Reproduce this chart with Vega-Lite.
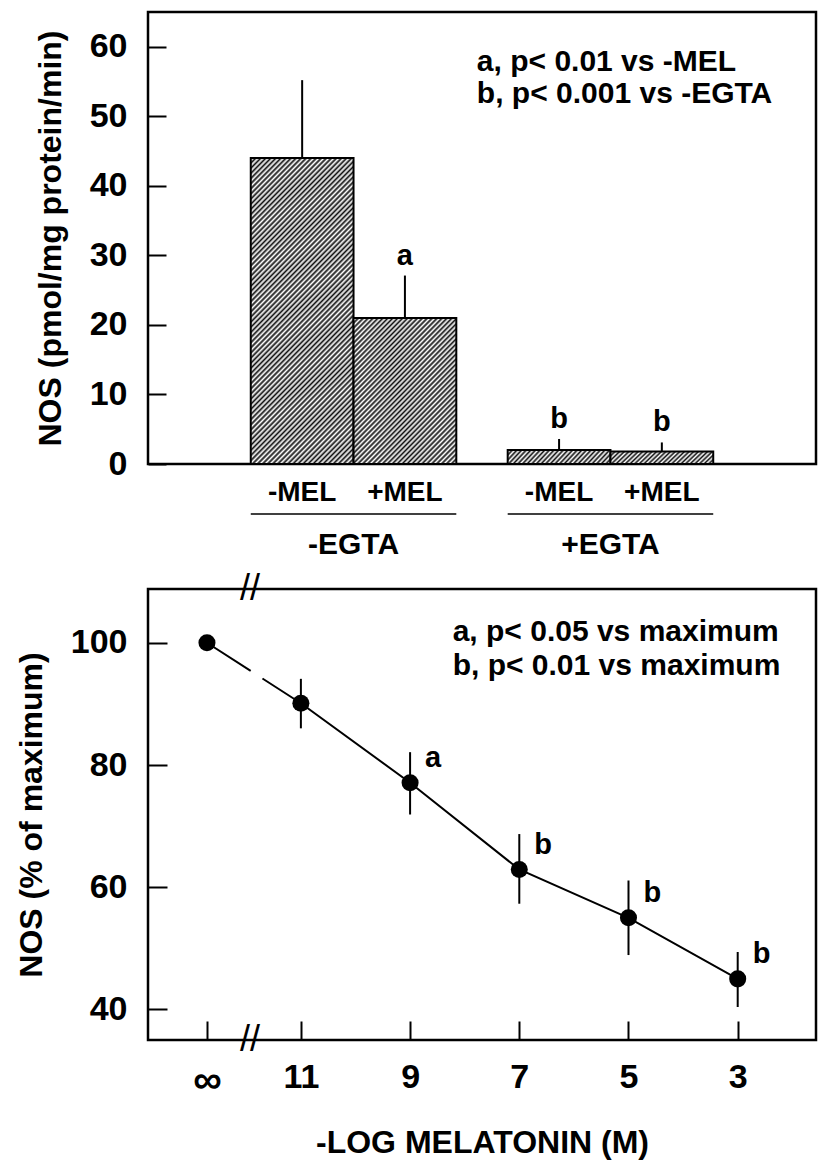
{
"$schema": "https://vega.github.io/schema/vega-lite/v6.json",
"padding": {"left": 14, "top": 10, "right": 0, "bottom": 0},
"background": "white",
"bounds": "flush",
"spacing": 125,
"config": {
  "view": {"stroke": "black", "strokeWidth": 2.5},
  "axis": {"domain": false, "grid": false, "tickColor": "black", "tickWidth": 2, "labelColor": "black", "titleColor": "black", "labelFont": "Liberation Sans", "titleFont": "Liberation Sans", "labelFontWeight": "bold", "titleFontWeight": "bold", "labelFontSize": 34, "titleFontSize": 32}
},
"datasets": {
  "bars": [
    {"egta": "-EGTA", "mel": "-MEL", "x0": 1, "x1": 2, "xc": 1.5, "mean": 44, "upper": 55.2, "sig": ""},
    {"egta": "-EGTA", "mel": "+MEL", "x0": 2, "x1": 3, "xc": 2.5, "mean": 21, "upper": 27.1, "sig": "a"},
    {"egta": "+EGTA", "mel": "-MEL", "x0": 3.5, "x1": 4.5, "xc": 4, "mean": 2.0, "upper": 3.6, "sig": "b"},
    {"egta": "+EGTA", "mel": "+MEL", "x0": 4.5, "x1": 5.5, "xc": 5, "mean": 1.8, "upper": 3.1, "sig": "b"}
  ],
  "dose": [
    {"dose": "∞", "pos": 12.72, "nos": 100, "lo": null, "hi": null, "sig": ""},
    {"dose": "11", "pos": 11, "nos": 90.1, "lo": 86.0, "hi": 94.1, "sig": ""},
    {"dose": "9", "pos": 9, "nos": 77.1, "lo": 71.9, "hi": 82.1, "sig": "a"},
    {"dose": "7", "pos": 7, "nos": 62.9, "lo": 57.3, "hi": 68.7, "sig": "b"},
    {"dose": "5", "pos": 5, "nos": 55.0, "lo": 48.9, "hi": 61.1, "sig": "b"},
    {"dose": "3", "pos": 3, "nos": 45.0, "lo": 40.4, "hi": 49.4, "sig": "b"}
  ]
},
"vconcat": [
{
  "width": 668, "height": 452,
  "layer": [
    {
      "data": {"name": "bars"},
      "transform": [{"filter": "datum.x0 == 1"}],
      "mark": {"type": "rect", "stroke": "black", "strokeWidth": 2, "fill": {"gradient": "linear", "x1": 0, "y1": 0, "x2": 0.41, "y2": 1.201, "stops": [
{"offset":0,"color":"#111"},{"offset":0.00625,"color":"#fff"},{"offset":0.0125,"color":"#111"},{"offset":0.01875,"color":"#fff"},{"offset":0.025,"color":"#111"},{"offset":0.03125,"color":"#fff"},{"offset":0.0375,"color":"#111"},{"offset":0.04375,"color":"#fff"},
{"offset":0.05,"color":"#111"},{"offset":0.05625,"color":"#fff"},{"offset":0.0625,"color":"#111"},{"offset":0.06875,"color":"#fff"},{"offset":0.075,"color":"#111"},{"offset":0.08125,"color":"#fff"},{"offset":0.0875,"color":"#111"},{"offset":0.09375,"color":"#fff"},
{"offset":0.1,"color":"#111"},{"offset":0.10625,"color":"#fff"},{"offset":0.1125,"color":"#111"},{"offset":0.11875,"color":"#fff"},{"offset":0.125,"color":"#111"},{"offset":0.13125,"color":"#fff"},{"offset":0.1375,"color":"#111"},{"offset":0.14375,"color":"#fff"},
{"offset":0.15,"color":"#111"},{"offset":0.15625,"color":"#fff"},{"offset":0.1625,"color":"#111"},{"offset":0.16875,"color":"#fff"},{"offset":0.175,"color":"#111"},{"offset":0.18125,"color":"#fff"},{"offset":0.1875,"color":"#111"},{"offset":0.19375,"color":"#fff"},
{"offset":0.2,"color":"#111"},{"offset":0.20625,"color":"#fff"},{"offset":0.2125,"color":"#111"},{"offset":0.21875,"color":"#fff"},{"offset":0.225,"color":"#111"},{"offset":0.23125,"color":"#fff"},{"offset":0.2375,"color":"#111"},{"offset":0.24375,"color":"#fff"},
{"offset":0.25,"color":"#111"},{"offset":0.25625,"color":"#fff"},{"offset":0.2625,"color":"#111"},{"offset":0.26875,"color":"#fff"},{"offset":0.275,"color":"#111"},{"offset":0.28125,"color":"#fff"},{"offset":0.2875,"color":"#111"},{"offset":0.29375,"color":"#fff"},
{"offset":0.3,"color":"#111"},{"offset":0.30625,"color":"#fff"},{"offset":0.3125,"color":"#111"},{"offset":0.31875,"color":"#fff"},{"offset":0.325,"color":"#111"},{"offset":0.33125,"color":"#fff"},{"offset":0.3375,"color":"#111"},{"offset":0.34375,"color":"#fff"},
{"offset":0.35,"color":"#111"},{"offset":0.35625,"color":"#fff"},{"offset":0.3625,"color":"#111"},{"offset":0.36875,"color":"#fff"},{"offset":0.375,"color":"#111"},{"offset":0.38125,"color":"#fff"},{"offset":0.3875,"color":"#111"},{"offset":0.39375,"color":"#fff"},
{"offset":0.4,"color":"#111"},{"offset":0.40625,"color":"#fff"},{"offset":0.4125,"color":"#111"},{"offset":0.41875,"color":"#fff"},{"offset":0.425,"color":"#111"},{"offset":0.43125,"color":"#fff"},{"offset":0.4375,"color":"#111"},{"offset":0.44375,"color":"#fff"},
{"offset":0.45,"color":"#111"},{"offset":0.45625,"color":"#fff"},{"offset":0.4625,"color":"#111"},{"offset":0.46875,"color":"#fff"},{"offset":0.475,"color":"#111"},{"offset":0.48125,"color":"#fff"},{"offset":0.4875,"color":"#111"},{"offset":0.49375,"color":"#fff"},
{"offset":0.5,"color":"#111"},{"offset":0.50625,"color":"#fff"},{"offset":0.5125,"color":"#111"},{"offset":0.51875,"color":"#fff"},{"offset":0.525,"color":"#111"},{"offset":0.53125,"color":"#fff"},{"offset":0.5375,"color":"#111"},{"offset":0.54375,"color":"#fff"},
{"offset":0.55,"color":"#111"},{"offset":0.55625,"color":"#fff"},{"offset":0.5625,"color":"#111"},{"offset":0.56875,"color":"#fff"},{"offset":0.575,"color":"#111"},{"offset":0.58125,"color":"#fff"},{"offset":0.5875,"color":"#111"},{"offset":0.59375,"color":"#fff"},
{"offset":0.6,"color":"#111"},{"offset":0.60625,"color":"#fff"},{"offset":0.6125,"color":"#111"},{"offset":0.61875,"color":"#fff"},{"offset":0.625,"color":"#111"},{"offset":0.63125,"color":"#fff"},{"offset":0.6375,"color":"#111"},{"offset":0.64375,"color":"#fff"},
{"offset":0.65,"color":"#111"},{"offset":0.65625,"color":"#fff"},{"offset":0.6625,"color":"#111"},{"offset":0.66875,"color":"#fff"},{"offset":0.675,"color":"#111"},{"offset":0.68125,"color":"#fff"},{"offset":0.6875,"color":"#111"},{"offset":0.69375,"color":"#fff"},
{"offset":0.7,"color":"#111"},{"offset":0.70625,"color":"#fff"},{"offset":0.7125,"color":"#111"},{"offset":0.71875,"color":"#fff"},{"offset":0.725,"color":"#111"},{"offset":0.73125,"color":"#fff"},{"offset":0.7375,"color":"#111"},{"offset":0.74375,"color":"#fff"},
{"offset":0.75,"color":"#111"},{"offset":0.75625,"color":"#fff"},{"offset":0.7625,"color":"#111"},{"offset":0.76875,"color":"#fff"},{"offset":0.775,"color":"#111"},{"offset":0.78125,"color":"#fff"},{"offset":0.7875,"color":"#111"},{"offset":0.79375,"color":"#fff"},
{"offset":0.8,"color":"#111"},{"offset":0.80625,"color":"#fff"},{"offset":0.8125,"color":"#111"},{"offset":0.81875,"color":"#fff"},{"offset":0.825,"color":"#111"},{"offset":0.83125,"color":"#fff"},{"offset":0.8375,"color":"#111"},{"offset":0.84375,"color":"#fff"},
{"offset":0.85,"color":"#111"},{"offset":0.85625,"color":"#fff"},{"offset":0.8625,"color":"#111"},{"offset":0.86875,"color":"#fff"},{"offset":0.875,"color":"#111"},{"offset":0.88125,"color":"#fff"},{"offset":0.8875,"color":"#111"},{"offset":0.89375,"color":"#fff"},
{"offset":0.9,"color":"#111"},{"offset":0.90625,"color":"#fff"},{"offset":0.9125,"color":"#111"},{"offset":0.91875,"color":"#fff"},{"offset":0.925,"color":"#111"},{"offset":0.93125,"color":"#fff"},{"offset":0.9375,"color":"#111"},{"offset":0.94375,"color":"#fff"},
{"offset":0.95,"color":"#111"},{"offset":0.95625,"color":"#fff"},{"offset":0.9625,"color":"#111"},{"offset":0.96875,"color":"#fff"},{"offset":0.975,"color":"#111"},{"offset":0.98125,"color":"#fff"},{"offset":0.9875,"color":"#111"},{"offset":0.99375,"color":"#fff"},
{"offset":1,"color":"#111"}
      ]}},
      "encoding": {
        "x": {"field": "x0", "type": "quantitative", "scale": {"domain": [0, 6.4]}, "axis": null},
        "x2": {"field": "x1"},
        "y": {"field": "mean", "type": "quantitative", "scale": {"domain": [0, 65]}, "title": "NOS (pmol/mg protein/min)", "axis": {"values": [0, 10, 20, 30, 40, 50, 60], "tickSize": -18, "labelPadding": 39, "titlePadding": 22}},
        "y2": {"datum": 0}
      }
    },
    {
      "data": {"name": "bars"},
      "transform": [{"filter": "datum.x0 == 2"}],
      "mark": {"type": "rect", "stroke": "black", "strokeWidth": 2, "fill": {"gradient": "linear", "x1": 0, "y1": 0, "x2": 0.8115, "y2": 1.1349, "stops": [
{"offset":0,"color":"#111"},{"offset":0.01,"color":"#fff"},{"offset":0.02,"color":"#111"},{"offset":0.03,"color":"#fff"},{"offset":0.04,"color":"#111"},{"offset":0.05,"color":"#fff"},{"offset":0.06,"color":"#111"},{"offset":0.07,"color":"#fff"},{"offset":0.08,"color":"#111"},{"offset":0.09,"color":"#fff"},
{"offset":0.1,"color":"#111"},{"offset":0.11,"color":"#fff"},{"offset":0.12,"color":"#111"},{"offset":0.13,"color":"#fff"},{"offset":0.14,"color":"#111"},{"offset":0.15,"color":"#fff"},{"offset":0.16,"color":"#111"},{"offset":0.17,"color":"#fff"},{"offset":0.18,"color":"#111"},{"offset":0.19,"color":"#fff"},
{"offset":0.2,"color":"#111"},{"offset":0.21,"color":"#fff"},{"offset":0.22,"color":"#111"},{"offset":0.23,"color":"#fff"},{"offset":0.24,"color":"#111"},{"offset":0.25,"color":"#fff"},{"offset":0.26,"color":"#111"},{"offset":0.27,"color":"#fff"},{"offset":0.28,"color":"#111"},{"offset":0.29,"color":"#fff"},
{"offset":0.3,"color":"#111"},{"offset":0.31,"color":"#fff"},{"offset":0.32,"color":"#111"},{"offset":0.33,"color":"#fff"},{"offset":0.34,"color":"#111"},{"offset":0.35,"color":"#fff"},{"offset":0.36,"color":"#111"},{"offset":0.37,"color":"#fff"},{"offset":0.38,"color":"#111"},{"offset":0.39,"color":"#fff"},
{"offset":0.4,"color":"#111"},{"offset":0.41,"color":"#fff"},{"offset":0.42,"color":"#111"},{"offset":0.43,"color":"#fff"},{"offset":0.44,"color":"#111"},{"offset":0.45,"color":"#fff"},{"offset":0.46,"color":"#111"},{"offset":0.47,"color":"#fff"},{"offset":0.48,"color":"#111"},{"offset":0.49,"color":"#fff"},
{"offset":0.5,"color":"#111"},{"offset":0.51,"color":"#fff"},{"offset":0.52,"color":"#111"},{"offset":0.53,"color":"#fff"},{"offset":0.54,"color":"#111"},{"offset":0.55,"color":"#fff"},{"offset":0.56,"color":"#111"},{"offset":0.57,"color":"#fff"},{"offset":0.58,"color":"#111"},{"offset":0.59,"color":"#fff"},
{"offset":0.6,"color":"#111"},{"offset":0.61,"color":"#fff"},{"offset":0.62,"color":"#111"},{"offset":0.63,"color":"#fff"},{"offset":0.64,"color":"#111"},{"offset":0.65,"color":"#fff"},{"offset":0.66,"color":"#111"},{"offset":0.67,"color":"#fff"},{"offset":0.68,"color":"#111"},{"offset":0.69,"color":"#fff"},
{"offset":0.7,"color":"#111"},{"offset":0.71,"color":"#fff"},{"offset":0.72,"color":"#111"},{"offset":0.73,"color":"#fff"},{"offset":0.74,"color":"#111"},{"offset":0.75,"color":"#fff"},{"offset":0.76,"color":"#111"},{"offset":0.77,"color":"#fff"},{"offset":0.78,"color":"#111"},{"offset":0.79,"color":"#fff"},
{"offset":0.8,"color":"#111"},{"offset":0.81,"color":"#fff"},{"offset":0.82,"color":"#111"},{"offset":0.83,"color":"#fff"},{"offset":0.84,"color":"#111"},{"offset":0.85,"color":"#fff"},{"offset":0.86,"color":"#111"},{"offset":0.87,"color":"#fff"},{"offset":0.88,"color":"#111"},{"offset":0.89,"color":"#fff"},
{"offset":0.9,"color":"#111"},{"offset":0.91,"color":"#fff"},{"offset":0.92,"color":"#111"},{"offset":0.93,"color":"#fff"},{"offset":0.94,"color":"#111"},{"offset":0.95,"color":"#fff"},{"offset":0.96,"color":"#111"},{"offset":0.97,"color":"#fff"},{"offset":0.98,"color":"#111"},{"offset":0.99,"color":"#fff"},
{"offset":1,"color":"#111"}
      ]}},
      "encoding": {
        "x": {"field": "x0", "type": "quantitative", "axis": null},
        "x2": {"field": "x1"},
        "y": {"field": "mean", "type": "quantitative", "title": "NOS (pmol/mg protein/min)"},
        "y2": {"datum": 0}
      }
    },
    {
      "data": {"name": "bars"},
      "transform": [{"filter": "datum.x0 > 3"}],
      "mark": {"type": "rect", "stroke": "black", "strokeWidth": 2, "fill": {"gradient": "linear", "x1": 0, "y1": 0, "x2": 1.1087, "y2": 0.1402, "stops": [
{"offset":0,"color":"#111"},{"offset":0.02,"color":"#fff"},{"offset":0.04,"color":"#111"},{"offset":0.06,"color":"#fff"},{"offset":0.08,"color":"#111"},{"offset":0.1,"color":"#fff"},{"offset":0.12,"color":"#111"},{"offset":0.14,"color":"#fff"},{"offset":0.16,"color":"#111"},{"offset":0.18,"color":"#fff"},
{"offset":0.2,"color":"#111"},{"offset":0.22,"color":"#fff"},{"offset":0.24,"color":"#111"},{"offset":0.26,"color":"#fff"},{"offset":0.28,"color":"#111"},{"offset":0.3,"color":"#fff"},{"offset":0.32,"color":"#111"},{"offset":0.34,"color":"#fff"},{"offset":0.36,"color":"#111"},{"offset":0.38,"color":"#fff"},
{"offset":0.4,"color":"#111"},{"offset":0.42,"color":"#fff"},{"offset":0.44,"color":"#111"},{"offset":0.46,"color":"#fff"},{"offset":0.48,"color":"#111"},{"offset":0.5,"color":"#fff"},{"offset":0.52,"color":"#111"},{"offset":0.54,"color":"#fff"},{"offset":0.56,"color":"#111"},{"offset":0.58,"color":"#fff"},
{"offset":0.6,"color":"#111"},{"offset":0.62,"color":"#fff"},{"offset":0.64,"color":"#111"},{"offset":0.66,"color":"#fff"},{"offset":0.68,"color":"#111"},{"offset":0.7,"color":"#fff"},{"offset":0.72,"color":"#111"},{"offset":0.74,"color":"#fff"},{"offset":0.76,"color":"#111"},{"offset":0.78,"color":"#fff"},
{"offset":0.8,"color":"#111"},{"offset":0.82,"color":"#fff"},{"offset":0.84,"color":"#111"},{"offset":0.86,"color":"#fff"},{"offset":0.88,"color":"#111"},{"offset":0.9,"color":"#fff"},{"offset":0.92,"color":"#111"},{"offset":0.94,"color":"#fff"},{"offset":0.96,"color":"#111"},{"offset":0.98,"color":"#fff"},
{"offset":1,"color":"#111"}
      ]}},
      "encoding": {
        "x": {"field": "x0", "type": "quantitative", "axis": null},
        "x2": {"field": "x1"},
        "y": {"field": "mean", "type": "quantitative", "title": "NOS (pmol/mg protein/min)"},
        "y2": {"datum": 0}
      }
    },
    {
      "data": {"name": "bars"},
      "mark": {"type": "rule", "color": "black", "strokeWidth": 2},
      "encoding": {
        "x": {"field": "xc", "type": "quantitative", "axis": null},
        "y": {"field": "mean", "type": "quantitative", "title": "NOS (pmol/mg protein/min)"},
        "y2": {"field": "upper"}
      }
    },
    {
      "data": {"name": "bars"},
      "mark": {"type": "text", "color": "black", "font": "Liberation Sans", "fontWeight": "bold", "fontSize": 29, "align": "center", "baseline": "alphabetic", "dy": -11},
      "encoding": {
        "x": {"field": "xc", "type": "quantitative", "axis": null},
        "y": {"field": "upper", "type": "quantitative", "title": "NOS (pmol/mg protein/min)"},
        "text": {"field": "sig"}
      }
    },
    {
      "data": {"name": "bars"},
      "mark": {"type": "text", "color": "black", "font": "Liberation Sans", "fontWeight": "bold", "fontSize": 28, "align": "center", "baseline": "alphabetic"},
      "encoding": {
        "x": {"field": "xc", "type": "quantitative", "axis": null},
        "y": {"datum": -5.3, "title": "NOS (pmol/mg protein/min)"},
        "text": {"field": "mel"}
      }
    },
    {
      "data": {"name": "bars"},
      "transform": [{"aggregate": [{"op": "min", "field": "x0", "as": "gx0"}, {"op": "max", "field": "x1", "as": "gx1"}], "groupby": ["egta"]}],
      "mark": {"type": "rule", "color": "black", "strokeWidth": 1.5},
      "encoding": {
        "x": {"field": "gx0", "type": "quantitative", "axis": null},
        "x2": {"field": "gx1"},
        "y": {"datum": -7.2, "title": "NOS (pmol/mg protein/min)"}
      }
    },
    {
      "data": {"name": "bars"},
      "transform": [{"aggregate": [{"op": "mean", "field": "xc", "as": "gxc"}], "groupby": ["egta"]}],
      "mark": {"type": "text", "color": "black", "font": "Liberation Sans", "fontWeight": "bold", "fontSize": 30, "align": "center", "baseline": "alphabetic"},
      "encoding": {
        "x": {"field": "gxc", "type": "quantitative", "axis": null},
        "y": {"datum": -12.9, "title": "NOS (pmol/mg protein/min)"},
        "text": {"field": "egta"}
      }
    },
    {
      "data": {"values": [{}]},
      "mark": {"type": "text", "color": "black", "font": "Liberation Sans", "fontWeight": "bold", "fontSize": 30, "align": "left", "baseline": "alphabetic", "lineHeight": 32},
      "encoding": {
        "x": {"datum": 3.2, "axis": null},
        "y": {"datum": 56.5, "title": "NOS (pmol/mg protein/min)"},
        "text": {"value": ["a, p< 0.01 vs -MEL", "b, p< 0.001 vs -EGTA"]}
      }
    }
  ]
},
{
  "width": 668, "height": 451,
  "encoding": {
    "x": {"type": "quantitative", "scale": {"domain": [1.566, 13.8], "reverse": true}, "title": "-LOG MELATONIN (M)", "axis": {"values": [12.72, 11, 9, 7, 5, 3], "labelExpr": "datum.value > 12 ? '∞' : datum.label", "labelFontSize": {"condition": {"test": "datum.value > 12", "value": 40}, "value": 34}, "tickSize": -19, "labelPadding": 39, "titlePadding": 27, "labelFlush": false}},
    "y": {"type": "quantitative", "scale": {"domain": [35, 108.8]}, "title": "NOS (% of maximum)", "axis": {"values": [40, 60, 80, 100], "tickSize": -19, "labelPadding": 40, "titlePadding": 22}}
  },
  "layer": [
    {
      "data": {"name": "dose"},
      "transform": [{"filter": "datum.lo != null"}],
      "mark": {"type": "rule", "color": "black", "strokeWidth": 2},
      "encoding": {
        "x": {"field": "pos"},
        "y": {"field": "lo"},
        "y2": {"field": "hi"}
      }
    },
    {
      "data": {"name": "dose"},
      "transform": [{"filter": "datum.pos >= 11"}],
      "mark": {"type": "line", "color": "black", "strokeWidth": 2, "strokeDash": [52, 14, 100]},
      "encoding": {
        "x": {"field": "pos"},
        "y": {"field": "nos"}
      }
    },
    {
      "data": {"name": "dose"},
      "transform": [{"filter": "datum.pos <= 11"}],
      "mark": {"type": "line", "color": "black", "strokeWidth": 2},
      "encoding": {
        "x": {"field": "pos"},
        "y": {"field": "nos"}
      }
    },
    {
      "data": {"name": "dose"},
      "mark": {"type": "circle", "color": "black", "opacity": 1, "size": 290},
      "encoding": {
        "x": {"field": "pos"},
        "y": {"field": "nos"}
      }
    },
    {
      "data": {"name": "dose"},
      "mark": {"type": "text", "color": "black", "font": "Liberation Sans", "fontWeight": "bold", "fontSize": 29, "align": "left", "baseline": "alphabetic", "dx": 15, "dy": -16},
      "encoding": {
        "x": {"field": "pos"},
        "y": {"field": "nos"},
        "text": {"field": "sig"}
      }
    },
    {
      "data": {"values": [{"ax": 8.22, "ay": 100.36}]},
      "mark": {"type": "text", "color": "black", "font": "Liberation Sans", "fontWeight": "bold", "fontSize": 30, "align": "left", "baseline": "alphabetic", "lineHeight": 34},
      "encoding": {
        "x": {"field": "ax"},
        "y": {"field": "ay"},
        "text": {"value": ["a, p< 0.05 vs maximum", "b, p< 0.01 vs maximum"]}
      }
    },
    {
      "data": {"values": [{"bx": 11.93, "by": 108.8}, {"bx": 11.93, "by": 35}]},
      "mark": {"type": "text", "color": "black", "font": "Liberation Sans", "fontSize": 36, "align": "center", "baseline": "middle", "text": "//"},
      "encoding": {
        "x": {"field": "bx"},
        "y": {"field": "by"}
      }
    }
  ]
}
]
}
